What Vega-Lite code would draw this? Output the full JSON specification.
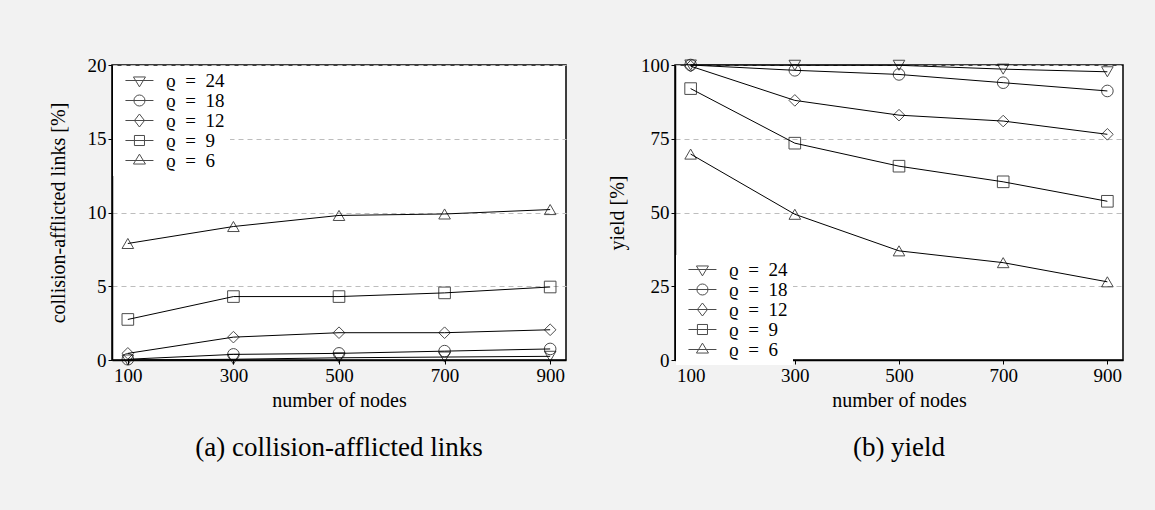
{
  "$schema": "https://vega.github.io/schema/vega-lite/v6.json",
  "background": "#f2f2f2",
  "padding": {"left": 47, "top": 55, "right": 36, "bottom": 53},
  "datasets": {
    "coll": [
      {"n": 100, "rho": "24", "v": 0}, {"n": 300, "rho": "24", "v": 0.05}, {"n": 500, "rho": "24", "v": 0.15}, {"n": 700, "rho": "24", "v": 0.2}, {"n": 900, "rho": "24", "v": 0.25},
      {"n": 100, "rho": "18", "v": 0.05}, {"n": 300, "rho": "18", "v": 0.38}, {"n": 500, "rho": "18", "v": 0.45}, {"n": 700, "rho": "18", "v": 0.6}, {"n": 900, "rho": "18", "v": 0.75},
      {"n": 100, "rho": "12", "v": 0.45}, {"n": 300, "rho": "12", "v": 1.55}, {"n": 500, "rho": "12", "v": 1.85}, {"n": 700, "rho": "12", "v": 1.85}, {"n": 900, "rho": "12", "v": 2.05},
      {"n": 100, "rho": "9", "v": 2.75}, {"n": 300, "rho": "9", "v": 4.3}, {"n": 500, "rho": "9", "v": 4.3}, {"n": 700, "rho": "9", "v": 4.55}, {"n": 900, "rho": "9", "v": 4.95},
      {"n": 100, "rho": "6", "v": 7.9}, {"n": 300, "rho": "6", "v": 9.05}, {"n": 500, "rho": "6", "v": 9.8}, {"n": 700, "rho": "6", "v": 9.9}, {"n": 900, "rho": "6", "v": 10.2}
    ],
    "yield": [
      {"n": 100, "rho": "24", "v": 100}, {"n": 300, "rho": "24", "v": 99.9}, {"n": 500, "rho": "24", "v": 99.9}, {"n": 700, "rho": "24", "v": 98.6}, {"n": 900, "rho": "24", "v": 97.7},
      {"n": 100, "rho": "18", "v": 100}, {"n": 300, "rho": "18", "v": 98.2}, {"n": 500, "rho": "18", "v": 96.8}, {"n": 700, "rho": "18", "v": 94}, {"n": 900, "rho": "18", "v": 91.2},
      {"n": 100, "rho": "12", "v": 99.6}, {"n": 300, "rho": "12", "v": 88}, {"n": 500, "rho": "12", "v": 83}, {"n": 700, "rho": "12", "v": 81}, {"n": 900, "rho": "12", "v": 76.5},
      {"n": 100, "rho": "9", "v": 92}, {"n": 300, "rho": "9", "v": 73.5}, {"n": 500, "rho": "9", "v": 65.7}, {"n": 700, "rho": "9", "v": 60.4}, {"n": 900, "rho": "9", "v": 53.8},
      {"n": 100, "rho": "6", "v": 69.8}, {"n": 300, "rho": "6", "v": 49.4}, {"n": 500, "rho": "6", "v": 37}, {"n": 700, "rho": "6", "v": 33}, {"n": 900, "rho": "6", "v": 26.5}
    ]
  },
  "hconcat": [
    {
      "width": 454,
      "height": 295,
      "data": {"name": "coll"},
      "title": {"text": "(a) collision-afflicted links", "orient": "bottom", "offset": 25},
      "layer": [
        {
          "mark": {"type": "line", "color": "black", "strokeWidth": 1},
          "encoding": {
            "x": {"field": "n", "type": "quantitative", "scale": {"domain": [70, 930], "nice": false, "zero": false},
              "axis": {"values": [100, 300, 500, 700, 900], "title": "number of nodes", "grid": false}},
            "y": {"field": "v", "type": "quantitative", "scale": {"domain": [0, 20], "nice": false},
              "axis": {"values": [0, 5, 10, 15, 20], "title": "collision-afflicted links [%]", "titlePadding": 19}},
            "detail": {"field": "rho"}
          }
        },
        {
          "mark": {"type": "point", "filled": false, "color": "black", "strokeWidth": 1, "size": 135},
          "encoding": {
            "x": {"field": "n", "type": "quantitative"},
            "y": {"field": "v", "type": "quantitative"},
            "shape": {"field": "rho", "type": "nominal",
              "scale": {"domain": ["24", "18", "12", "9", "6"], "range": ["triangle-down", "circle", "diamond", "square", "triangle-up"]},
              "legend": null}
          }
        },
        {
          "transform": [{"filter": "datum.n < 0"}],
          "mark": {"type": "point", "filled": false, "color": "black", "strokeWidth": 1},
          "encoding": {
            "x": {"field": "n", "type": "quantitative"},
            "y": {"field": "v", "type": "quantitative"},
            "shape": {"field": "rho", "type": "nominal",
              "scale": {"domain": ["24", "18", "12", "9", "6"], "range": ["M-0.29,0H3.67M0.84,-0.5H2.54L1.69,0.9Z", "M-0.29,0H3.67M2.47,0A0.78,0.78 0 1,1 0.91,0A0.78,0.78 0 1,1 2.47,0", "M-0.29,0H3.67M1.69,-0.92L2.4,0L1.69,0.92L0.98,0Z", "M-0.29,0H3.67M0.98,-0.71H2.4V0.71H0.98Z", "M-0.29,0H3.67M0.84,0.5H2.54L1.69,-0.9Z"]},
              "legend": {"orient": "none", "legendX": 1, "legendY": 1, "labelExpr": "'ϱ\u2002=\u2002' + datum.label"}}
          }
        }
      ],
      "resolve": {"scale": {"shape": "independent"}}
    },
    {
      "width": 448,
      "height": 295,
      "data": {"name": "yield"},
      "title": {"text": "(b) yield", "orient": "bottom", "offset": 25},
      "layer": [
        {
          "mark": {"type": "line", "color": "black", "strokeWidth": 1},
          "encoding": {
            "x": {"field": "n", "type": "quantitative", "scale": {"domain": [70, 930], "nice": false, "zero": false},
              "axis": {"values": [100, 300, 500, 700, 900], "title": "number of nodes", "grid": false}},
            "y": {"field": "v", "type": "quantitative", "scale": {"domain": [0, 100], "nice": false},
              "axis": {"values": [0, 25, 50, 75, 100], "title": "yield [%]", "titlePadding": 13}},
            "detail": {"field": "rho"}
          }
        },
        {
          "mark": {"type": "point", "filled": false, "color": "black", "strokeWidth": 1, "size": 135},
          "encoding": {
            "x": {"field": "n", "type": "quantitative"},
            "y": {"field": "v", "type": "quantitative"},
            "shape": {"field": "rho", "type": "nominal",
              "scale": {"domain": ["24", "18", "12", "9", "6"], "range": ["triangle-down", "circle", "diamond", "square", "triangle-up"]},
              "legend": null}
          }
        },
        {
          "transform": [{"filter": "datum.n < 0"}],
          "mark": {"type": "point", "filled": false, "color": "black", "strokeWidth": 1},
          "encoding": {
            "x": {"field": "n", "type": "quantitative"},
            "y": {"field": "v", "type": "quantitative"},
            "shape": {"field": "rho", "type": "nominal",
              "scale": {"domain": ["24", "18", "12", "9", "6"], "range": ["M-0.29,0H3.67M0.84,-0.5H2.54L1.69,0.9Z", "M-0.29,0H3.67M2.47,0A0.78,0.78 0 1,1 0.91,0A0.78,0.78 0 1,1 2.47,0", "M-0.29,0H3.67M1.69,-0.92L2.4,0L1.69,0.92L0.98,0Z", "M-0.29,0H3.67M0.98,-0.71H2.4V0.71H0.98Z", "M-0.29,0H3.67M0.84,0.5H2.54L1.69,-0.9Z"]},
              "legend": {"orient": "none", "legendX": 1, "legendY": 190, "labelExpr": "'ϱ\u2002=\u2002' + datum.label"}}
          }
        }
      ],
      "resolve": {"scale": {"shape": "independent"}}
    }
  ],
  "resolve": {"scale": {"shape": "independent", "y": "independent", "x": "independent"}, "legend": {"shape": "independent"}},
  "spacing": 39,
  "config": {
    "font": "Liberation Serif",
    "view": {"stroke": "black", "strokeWidth": 1.5, "fill": "white"},
    "title": {"fontSize": 27, "fontWeight": "normal", "color": "black", "font": "Liberation Serif"},
    "axis": {
      "labelFont": "Liberation Serif", "labelFontSize": 19, "labelColor": "black",
      "titleFont": "Liberation Serif", "titleFontSize": 20, "titleFontWeight": "normal", "titleColor": "black",
      "domainColor": "black", "domainWidth": 1.5, "tickColor": "black", "tickSize": 4, "labelPadding": 2,
      "gridColor": "#bdbdbd", "gridDash": [5, 4], "gridWidth": 1
    },
    "axisX": {"titlePadding": 5},
    "legend": {
      "title": null,
      "padding": 5,
      "fillColor": "white",
      "symbolSize": 200,
      "symbolStrokeWidth": 1,
      "symbolStrokeColor": "black",
      "symbolFillColor": "transparent",
      "labelFont": "Liberation Serif",
      "labelFontSize": 19,
      "labelColor": "black",
      "labelOffset": 29,
      "rowPadding": -1
    }
  }
}
